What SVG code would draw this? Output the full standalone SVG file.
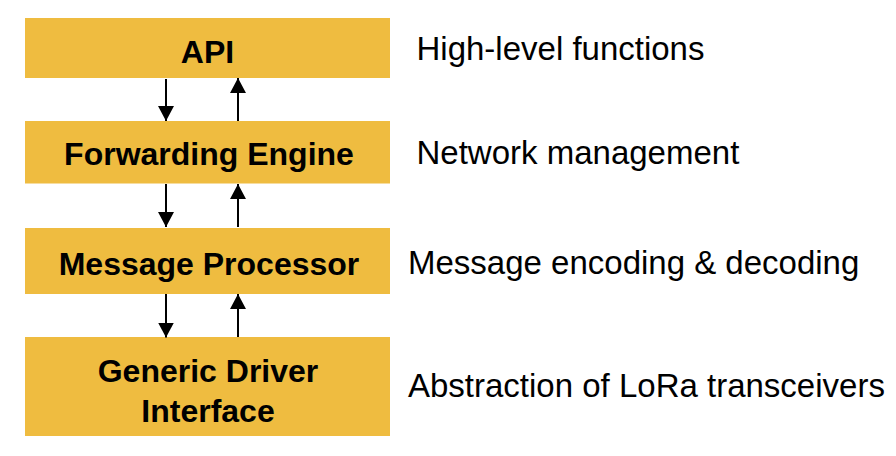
<svg xmlns="http://www.w3.org/2000/svg" width="896" height="456" viewBox="0 0 896 456">
<defs>
<style>
.box{fill:#EFBC40;}
.lbl{font-family:"Liberation Sans",Arial,sans-serif;font-weight:bold;font-size:32px;fill:#000;text-anchor:middle;}
.desc{font-family:"Liberation Sans",Arial,sans-serif;font-size:33px;fill:#000;}
.arr{stroke:#000;stroke-width:2;fill:none;marker-end:url(#ah);}
</style>
<marker id="ah" markerUnits="userSpaceOnUse" markerWidth="16" markerHeight="16" refX="15" refY="8" orient="auto" viewBox="0 0 16 16">
<path d="M0,0 L15,8 L0,16 z" fill="#000"/>
</marker>
</defs>
<rect width="896" height="456" fill="#fff"/>
<g id="api">
<rect class="box" x="25" y="18" width="365" height="60"/>
<text class="lbl" x="207.5" y="63">API</text>
</g>
<g id="forwarding-engine">
<rect class="box" x="25" y="121" width="365" height="62.5"/>
<text class="lbl" x="209" y="165">Forwarding Engine</text>
</g>
<g id="message-processor">
<rect class="box" x="25" y="228" width="365" height="66"/>
<text class="lbl" x="209" y="275">Message Processor</text>
</g>
<g id="generic-driver">
<rect class="box" x="25" y="337" width="365" height="99"/>
<text class="lbl" x="208" y="381.5">Generic Driver</text>
<text class="lbl" x="208" y="421.5">Interface</text>
</g>
<g id="descriptions">
<text class="desc" x="416.5" y="60">High-level functions</text>
<text class="desc" x="416.5" y="163.5">Network management</text>
<text class="desc" x="408" y="273.5">Message encoding &amp; decoding</text>
<text class="desc" x="408" y="396.5">Abstraction of LoRa transceivers</text>
</g>
<g id="connectors">
<line class="arr" x1="166" y1="79" x2="166" y2="121"/>
<line class="arr" x1="238" y1="121" x2="238" y2="78"/>
<line class="arr" x1="166" y1="184" x2="166" y2="227"/>
<line class="arr" x1="238" y1="227" x2="238" y2="184"/>
<line class="arr" x1="166" y1="294" x2="166" y2="337.5"/>
<line class="arr" x1="238" y1="337" x2="238" y2="294"/>
</g>
</svg>
